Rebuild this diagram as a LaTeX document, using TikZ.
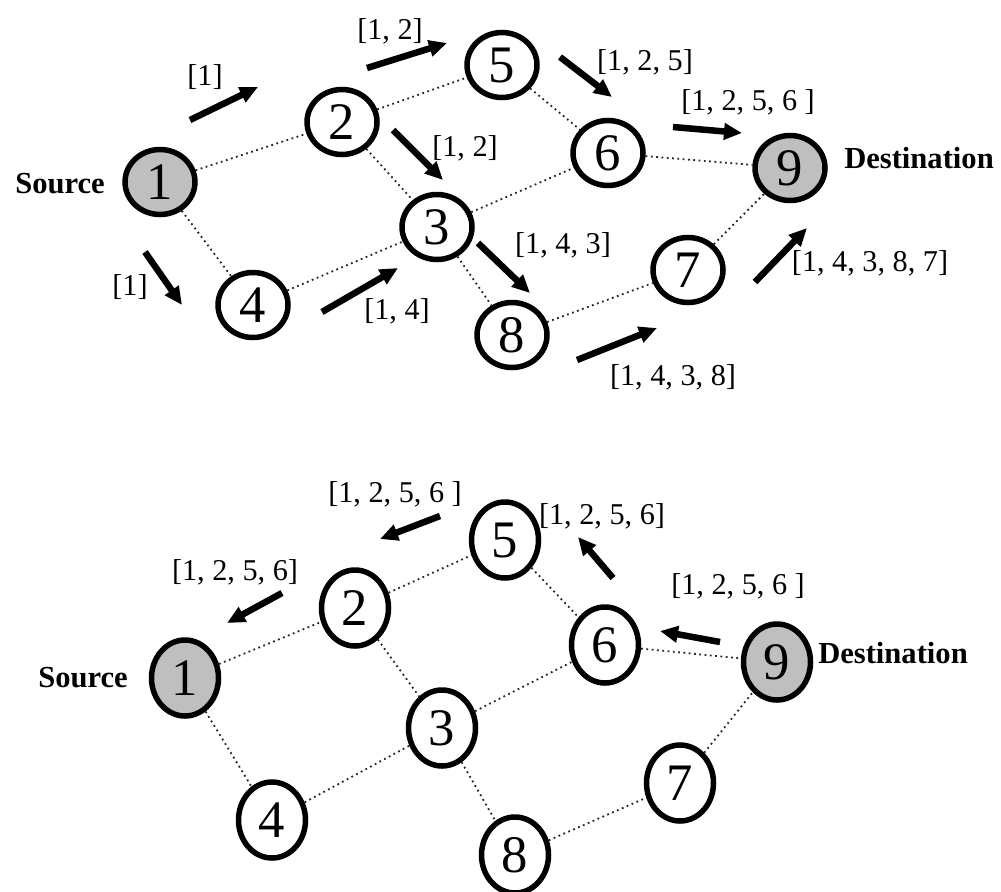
\documentclass[tikz,border=0pt]{standalone}
\usepackage{fontspec}
\setmainfont{Liberation Serif}
\usepackage{tikz}
\usetikzlibrary{arrows.meta, shapes.geometric}

\begin{document}
\begin{tikzpicture}[
  x=0.1mm, y=-0.1mm,
  peer/.style={
    ellipse,
    draw=black,
    line width=0.55mm,
    fill=white,
    minimum width=7mm,
    minimum height=6.5mm,
    inner sep=0pt,
    font=\fontsize{15}{16}\selectfont
  },
  endpt/.style={peer, fill=black!25},
  tall/.style={minimum width=6.7mm, minimum height=7.6mm},
  tag/.style={inner sep=0pt, font=\fontsize{8.6}{10}\selectfont},
  role/.style={inner sep=0pt, font=\fontsize{8.7}{10}\selectfont\bfseries},
  link/.style={densely dotted, line width=0.18mm, draw=black!85},
  msg/.style={-{Triangle[length=1.8mm, width=1.6mm]}, line width=0.65mm, draw=black}
]
  \useasboundingbox (0,0) rectangle (1001,891);

  % route request
  \node[endpt] (req1) at (160,182) {1};
  \node[peer] (req2) at (342,122) {2};
  \node[peer] (req3) at (437,227) {3};
  \node[peer] (req4) at (253,305) {4};
  \node[peer] (req5) at (502,65) {5};
  \node[peer] (req6) at (608,153) {6};
  \node[peer] (req7) at (688,270) {7};
  \node[peer] (req8) at (512,335) {8};
  \node[endpt] (req9) at (790,168) {9};
  \node[role] (reqsrc) at (60,184) {Source};
  \node[role] (reqdst) at (919,158) {Destination};

  \draw[link] (req1) -- (req2);
  \draw[link] (req1) -- (req4);
  \draw[link] (req2) -- (req5);
  \draw[link] (req2) -- (req3);
  \draw[link] (req4) -- (req3);
  \draw[link] (req3) -- (req6);
  \draw[link] (req3) -- (req8);
  \draw[link] (req5) -- (req6);
  \draw[link] (req6) -- (req9);
  \draw[link] (req8) -- (req7);
  \draw[link] (req7) -- (req9);

  \coordinate (fa0) at (190,120); \coordinate (fa1) at (258,87);
  \coordinate (fb0) at (367,68);  \coordinate (fb1) at (447,43);
  \coordinate (fc0) at (393,130); \coordinate (fc1) at (443,180);
  \coordinate (fd0) at (145,252); \coordinate (fd1) at (182,305);
  \coordinate (fe0) at (322,312); \coordinate (fe1) at (398,268);
  \coordinate (ff0) at (560,57);  \coordinate (ff1) at (612,97);
  \coordinate (fg0) at (673,127); \coordinate (fg1) at (742,133);
  \coordinate (fh0) at (478,243); \coordinate (fh1) at (530,293);
  \coordinate (fi0) at (577,360); \coordinate (fi1) at (657,328);
  \coordinate (fj0) at (755,282); \coordinate (fj1) at (807,228);

  \draw[msg] (fa0) -- (fa1);
  \draw[msg] (fb0) -- (fb1);
  \draw[msg] (fc0) -- (fc1);
  \draw[msg] (fd0) -- (fd1);
  \draw[msg] (fe0) -- (fe1);
  \draw[msg] (ff0) -- (ff1);
  \draw[msg] (fg0) -- (fg1);
  \draw[msg] (fh0) -- (fh1);
  \draw[msg] (fi0) -- (fi1);
  \draw[msg] (fj0) -- (fj1);

  \node[tag] (fa) at (205,77) {[1]};
  \node[tag] (fb) at (390,31) {[1, 2]};
  \node[tag] (fc) at (465,148) {[1, 2]};
  \node[tag] (fd) at (130,287) {[1]};
  \node[tag] (fe) at (397,311) {[1, 4]};
  \node[tag] (ff) at (645,62) {[1, 2, 5]};
  \node[tag] (fg) at (748,102) {[1, 2, 5, 6 ]};
  \node[tag] (fh) at (563,245) {[1, 4, 3]};
  \node[tag] (fi) at (673,377) {[1, 4, 3, 8]};
  \node[tag] (fj) at (870,263) {[1, 4, 3, 8, 7]};

  % route reply
  \node[endpt, tall] (rep1) at (185,678) {1};
  \node[peer, tall] (rep2) at (355,608) {2};
  \node[peer, tall] (rep3) at (442,728) {3};
  \node[peer, tall] (rep4) at (272,820) {4};
  \node[peer, tall] (rep5) at (505,540) {5};
  \node[peer, tall] (rep6) at (605,645) {6};
  \node[peer, tall] (rep7) at (680,783) {7};
  \node[peer, tall] (rep8) at (515,855) {8};
  \node[endpt, tall] (rep9) at (777,662) {9};
  \node[role] (repsrc) at (83,678) {Source};
  \node[role] (repdst) at (893,653) {Destination};

  \draw[link] (rep1) -- (rep2);
  \draw[link] (rep1) -- (rep4);
  \draw[link] (rep2) -- (rep5);
  \draw[link] (rep2) -- (rep3);
  \draw[link] (rep4) -- (rep3);
  \draw[link] (rep3) -- (rep6);
  \draw[link] (rep3) -- (rep8);
  \draw[link] (rep5) -- (rep6);
  \draw[link] (rep6) -- (rep9);
  \draw[link] (rep8) -- (rep7);
  \draw[link] (rep7) -- (rep9);

  \coordinate (ba0) at (282,593); \coordinate (ba1) at (227,623);
  \coordinate (bb0) at (440,516); \coordinate (bb1) at (380,539);
  \coordinate (bc0) at (613,578); \coordinate (bc1) at (578,537);
  \coordinate (bd0) at (720,642); \coordinate (bd1) at (660,631);

  \draw[msg] (ba0) -- (ba1);
  \draw[msg] (bb0) -- (bb1);
  \draw[msg] (bc0) -- (bc1);
  \draw[msg] (bd0) -- (bd1);

  \node[tag] (ba) at (235,572) {[1, 2, 5, 6]};
  \node[tag] (bb) at (395,494) {[1, 2, 5, 6 ]};
  \node[tag] (bc) at (602,516) {[1, 2, 5, 6]};
  \node[tag] (bd) at (738,586) {[1, 2, 5, 6 ]};
\end{tikzpicture}
\end{document}
